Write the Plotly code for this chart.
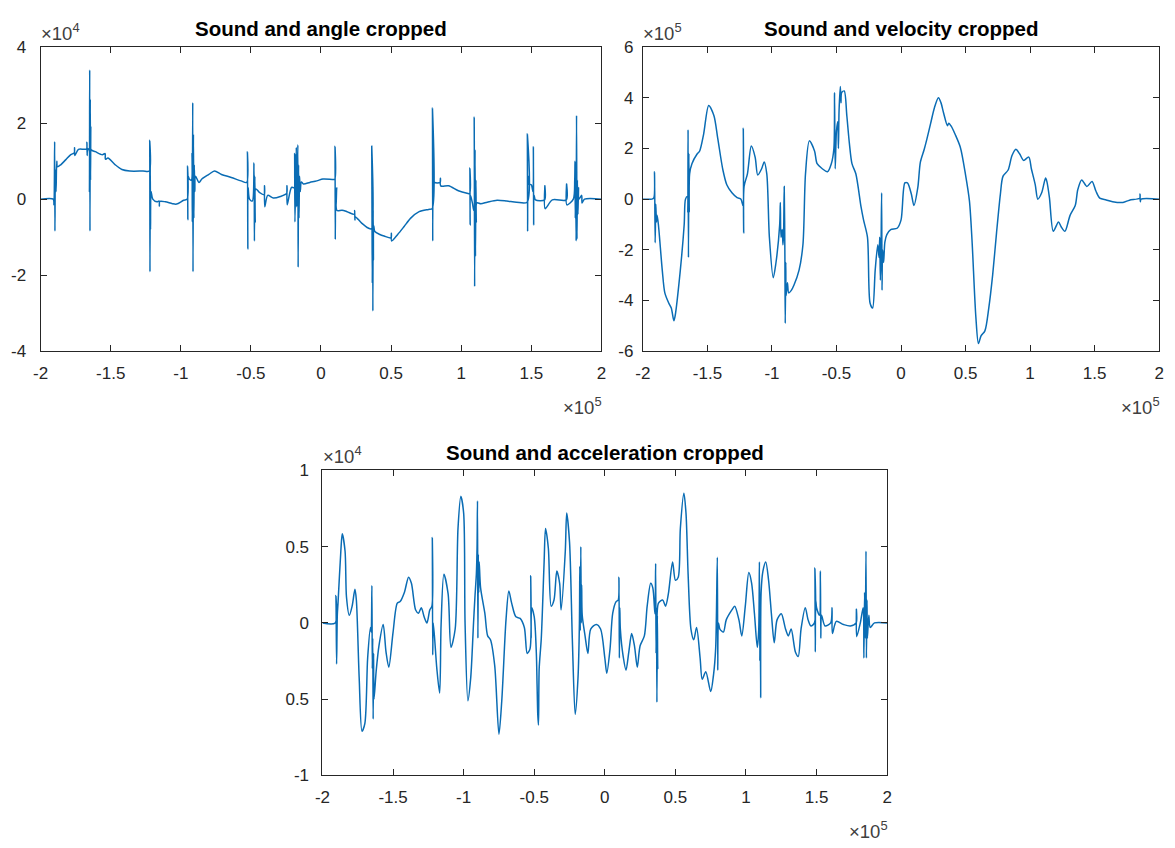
import plotly.graph_objects as go

# ---------------- data (x in units of 1e5, y in units shown by exponent label) ----------------
angle_x = [-2.00, -1.91, -1.905, -1.90, -1.898, -1.895, -1.89, -1.885, -1.88, -1.855, -1.82, -1.785,
           -1.76, -1.758, -1.756, -1.73, -1.69, -1.672, -1.670, -1.668, -1.665, -1.655, -1.652, -1.650,
           -1.648, -1.646, -1.644, -1.642, -1.64, -1.61, -1.56, -1.54, -1.538, -1.52, -1.47, -1.42,
           -1.365, -1.27, -1.225, -1.222, -1.220, -1.218, -1.216, -1.212, -1.20, -1.17, -1.155, -1.153,
           -1.15, -1.11, -1.06, -1.03, -0.98, -0.955, -0.952, -0.950, -0.947, -0.94, -0.925, -0.92,
           -0.918, -0.915, -0.913, -0.910, -0.907, -0.904, -0.90, -0.895, -0.87, -0.85, -0.80, -0.76,
           -0.71, -0.64, -0.57, -0.53, -0.525, -0.522, -0.52, -0.51, -0.49, -0.478, -0.475, -0.472,
           -0.469, -0.465, -0.44, -0.405, -0.403, -0.401, -0.38, -0.34, -0.29, -0.245, -0.243, -0.241,
           -0.21, -0.19, -0.188, -0.186, -0.18, -0.176, -0.174, -0.170, -0.165, -0.163, -0.160, -0.157,
           -0.153, -0.148, -0.14, -0.125, -0.08, -0.03, 0.014, 0.08, 0.098, 0.100, 0.102, 0.104,
           0.107, 0.112, 0.114, 0.15, 0.186, 0.238, 0.240, 0.242, 0.244, 0.29, 0.337, 0.36,
           0.362, 0.364, 0.366, 0.368, 0.370, 0.372, 0.374, 0.376, 0.384, 0.42, 0.45, 0.50,
           0.502, 0.504, 0.547, 0.593, 0.64, 0.70, 0.767, 0.793, 0.795, 0.797, 0.799, 0.801,
           0.805, 0.81, 0.85, 0.852, 0.854, 0.91, 0.98, 1.035, 1.060, 1.062, 1.064, 1.066,
           1.08, 1.090, 1.093, 1.096, 1.099, 1.102, 1.105, 1.108, 1.112, 1.14, 1.186, 1.256,
           1.326, 1.395, 1.47, 1.472, 1.474, 1.477, 1.484, 1.50, 1.512, 1.515, 1.517, 1.52,
           1.53, 1.595, 1.597, 1.599, 1.65, 1.75, 1.752, 1.754, 1.80, 1.810, 1.812, 1.814,
           1.817, 1.820, 1.823, 1.826, 1.829, 1.833, 1.837, 1.84, 1.86, 1.862, 1.88, 2.0]
angle_y = [0, 0, -0.15, 1.51, -0.84, 0.78, 0.2, 1.0, 0.85, 0.91, 1.04, 1.17,
           1.22, 1.35, 1.15, 1.31, 1.31, 1.32, 1.5, 1.15, 1.32, 1.3, 0.2, 3.4,
           -0.84, 2.63, 0.5, 1.9, 1.3, 1.25, 1.17, 1.2, 1.05, 1.08, 0.91, 0.78,
           0.74, 0.74, 0.74, 1.55, -1.91, 0.9, -0.8, 0.2, 0, -0.07, -0.05, -0.18,
           -0.06, -0.07, -0.12, -0.13, -0.03, 0, 0.87, -0.54, 0.6, 0.53, 0.5, 1.2,
           -0.6, 2.54, -1.91, 1.7, -0.5, 0.9, 0.2, 0.6, 0.44, 0.53, 0.65, 0.74,
           0.65, 0.57, 0.48, 0.44, 1.25, -1.31, 0.3, 0, -0.05, 0.95, -1.1, 0.6,
           -0.6, 0.27, 0.18, 0.12, 0.35, -0.2, 0.1, 0.03, 0.07, 0.15, 0.35, -0.15,
           0.31, 0.3, 1.2, -0.6, 0.5, 1.36, -0.2, 0.4, 1.43, -1.79, 0.9, -0.5,
           0.6, 0.2, 0.45, 0.4, 0.44, 0.48, 0.53, 0.52, 0.52, 1.39, -1.06, 0.3,
           -0.25, 0.3, -0.3, -0.29, -0.33, -0.4, -0.3, -0.55, -0.46, -0.63, -0.76, -0.78,
           1.39, -0.5, -2.21, 0.3, -2.94, -0.3, -1.6, -0.7, -0.85, -0.93, -0.97, -1.02,
           -0.9, -1.1, -0.93, -0.72, -0.5, -0.33, -0.27, -0.25, 2.4, -1.1, 1.6, 0.0,
           0.6, 0.44, 0.44, 0.55, 0.35, 0.35, 0.22, 0.16, 0.15, 0.82, -0.68, 0.1,
           -0.1, -0.3, 2.16, -2.3, 1.3, -1.5, 0.5, -0.6, -0.1, -0.12, -0.08, -0.03,
           -0.05, -0.08, -0.08, 1.72, -0.85, 0.6, 0.39, 0.38, 0.2, 1.38, -0.68, 0.1,
           -0.02, -0.02, 0.35, -0.25, -0.02, -0.02, 0.4, -0.15, 0, 0.5, 1.0, -0.5,
           0.6, -1.1, 2.2, -1.05, 0.5, -0.4, 0.3, 0, 0.1, -0.1, 0, 0]

velocity_x = [-2, -1.93, -1.915, -1.91, -1.905, -1.90, -1.895, -1.89, -1.88, -1.85, -1.83, -1.80,
              -1.78, -1.76, -1.75, -1.71, -1.68, -1.67, -1.655, -1.652, -1.650, -1.647, -1.644, -1.641,
              -1.638, -1.62, -1.58, -1.56, -1.53, -1.49, -1.45, -1.42, -1.38, -1.35, -1.31, -1.27,
              -1.24, -1.225, -1.222, -1.219, -1.216, -1.19, -1.16, -1.13, -1.11, -1.08, -1.06, -1.04,
              -1.02, -0.99, -0.97, -0.94, -0.935, -0.93, -0.92, -0.915, -0.91, -0.905, -0.90, -0.897,
              -0.893, -0.89, -0.88, -0.87, -0.85, -0.83, -0.79, -0.76, -0.74, -0.71, -0.67, -0.65,
              -0.61, -0.57, -0.54, -0.52, -0.515, -0.51, -0.50, -0.49, -0.485, -0.48, -0.47, -0.465,
              -0.46, -0.44, -0.42, -0.40, -0.38, -0.35, -0.31, -0.29, -0.26, -0.24, -0.22, -0.20,
              -0.18, -0.17, -0.165, -0.16, -0.155, -0.15, -0.147, -0.143, -0.135, -0.125, -0.11, -0.08,
              -0.03, 0.0, 0.03, 0.05, 0.08, 0.10, 0.13, 0.15, 0.18, 0.20, 0.23, 0.26,
              0.29, 0.31, 0.33, 0.36, 0.37, 0.39, 0.42, 0.46, 0.50, 0.53, 0.55, 0.58,
              0.60, 0.62, 0.65, 0.68, 0.71, 0.74, 0.77, 0.79, 0.83, 0.86, 0.89, 0.92,
              0.95, 0.99, 1.01, 1.04, 1.06, 1.09, 1.12, 1.13, 1.15, 1.18, 1.22, 1.24,
              1.27, 1.31, 1.35, 1.37, 1.40, 1.44, 1.48, 1.51, 1.54, 1.59, 1.64, 1.72,
              1.77, 1.85, 1.852, 1.854, 1.86, 2.0]
velocity_y = [0, 0, 0.05, 1.08, -1.72, -0.2, -0.9, -0.64, -1.0, -2.8, -3.7, -4.1,
              -4.3, -4.8, -4.6, -2.8, -1.0, 0, 0.1, -0.5, 2.74, -2.3, 1.8, -0.5,
              1.0, 1.4, 1.78, 1.9, 2.55, 3.7, 3.3, 2.4, 1.15, 0.57, 0.25, 0.06,
              0, -0.25, 2.8, -1.34, 0.5, 1.0, 2.1, 1.65, 0.95, 1.2, 1.47, 1.0,
              -1.5, -3.1, -2.55, -1.0, -0.13, -1.5, -1.2, -1.8, -1.4, 0.5, -2.0, -4.9,
              -2.5, -3.8, -3.3, -3.7, -3.6, -3.4, -2.8, -1.8, 1.0, 2.3, 1.9, 1.4,
              1.2, 1.08, 1.4, 2.0, 4.2, 1.2, 2.7, 3.05, 2.0, 3.5, 4.45, 3.8,
              4.2, 4.27, 3.3, 2.2, 1.4, 1.0, -0.3, -0.83, -1.5, -4.1, -4.3, -2.8,
              -1.8, -2.3, -1.5, -3.2, -2.0, 0.25, -3.6, -2.0, -2.5, -1.7, -1.4, -1.2,
              -1.15, -0.83, 0.64, 0.64, 0.2, -0.25, 0.45, 1.46, 1.97, 2.36, 3.0, 3.63,
              4.0, 3.8, 3.4, 2.9, 3.0, 2.87, 2.55, 2.04, 0.96, -0.06, -1.6, -4.65,
              -5.7, -5.4, -5.2, -4.3, -3.0, -1.34, 0.2, 0.9, 1.15, 1.72, 1.97, 1.78,
              1.53, 1.66, 1.2, 0.57, 0.0, 0.25, 0.83, 0.7, 0.06, -1.27, -0.9, -1.08,
              -1.27, -0.64, -0.25, 0.38, 0.76, 0.5, 0.7, 0.32, 0.04, -0.03, -0.1, -0.13,
              -0.04, 0.04, 0.2, -0.1, 0.0, 0]

accel_x = [-2, -1.91, -1.905, -1.90, -1.895, -1.89, -1.87, -1.86, -1.84, -1.83, -1.81, -1.79,
           -1.77, -1.76, -1.74, -1.72, -1.70, -1.68, -1.66, -1.655, -1.65, -1.647, -1.644, -1.641,
           -1.638, -1.635, -1.62, -1.60, -1.57, -1.55, -1.53, -1.50, -1.47, -1.45, -1.42, -1.39,
           -1.37, -1.34, -1.32, -1.30, -1.28, -1.26, -1.24, -1.225, -1.222, -1.219, -1.215, -1.19,
           -1.17, -1.16, -1.14, -1.11, -1.09, -1.06, -1.04, -1.02, -1.00, -0.99, -0.97, -0.95,
           -0.93, -0.92, -0.91, -0.905, -0.902, -0.899, -0.896, -0.893, -0.89, -0.88, -0.85, -0.83,
           -0.81, -0.78, -0.75, -0.73, -0.70, -0.68, -0.66, -0.63, -0.60, -0.57, -0.55, -0.53,
           -0.525, -0.522, -0.518, -0.50, -0.485, -0.48, -0.475, -0.47, -0.465, -0.45, -0.43, -0.42,
           -0.40, -0.38, -0.36, -0.34, -0.32, -0.31, -0.28, -0.27, -0.25, -0.23, -0.21, -0.19,
           -0.18, -0.177, -0.174, -0.17, -0.167, -0.164, -0.16, -0.14, -0.12, -0.10, -0.06, -0.03,
           0.0, 0.014, 0.037, 0.056, 0.08, 0.095, 0.10, 0.103, 0.106, 0.11, 0.13, 0.15,
           0.17, 0.19, 0.21, 0.23, 0.25, 0.28, 0.30, 0.325, 0.34, 0.355, 0.36, 0.363,
           0.366, 0.369, 0.372, 0.375, 0.38, 0.41, 0.43, 0.45, 0.48, 0.50, 0.52, 0.535,
           0.56, 0.575, 0.59, 0.61, 0.63, 0.65, 0.675, 0.69, 0.715, 0.75, 0.77, 0.785,
           0.797, 0.80, 0.805, 0.815, 0.84, 0.86, 0.90, 0.92, 0.95, 0.97, 0.995, 1.02,
           1.04, 1.06, 1.08, 1.09, 1.095, 1.098, 1.101, 1.104, 1.107, 1.12, 1.14, 1.16,
           1.18, 1.20, 1.22, 1.25, 1.28, 1.30, 1.32, 1.35, 1.37, 1.39, 1.42, 1.44,
           1.46, 1.485, 1.488, 1.491, 1.494, 1.50, 1.52, 1.527, 1.53, 1.535, 1.56, 1.60,
           1.61, 1.612, 1.64, 1.69, 1.74, 1.78, 1.782, 1.784, 1.81, 1.83, 1.835, 1.84,
           1.845, 1.85, 1.853, 1.857, 1.86, 1.87, 1.88, 1.91, 2.0]
accel_y = [0, 0, 0.18, -0.27, 0.05, 0.13, 0.47, 0.585, 0.47, 0.17, 0.05, 0.11,
           0.22, 0.15, -0.36, -0.71, -0.66, -0.23, -0.03, -0.06, 0.245, -0.3, -0.1, -0.63,
           -0.2, -0.5, -0.32, -0.15, -0.01, -0.19, -0.29, -0.06, 0.13, 0.14, 0.2, 0.3,
           0.26, 0.085, 0.064, 0.1, 0.04, 0, 0.085, 0.11, 0.56, -0.21, 0.0, -0.3,
           -0.46, -0.02, 0.32, 0.19, -0.16, -0.04, 0.62, 0.83, 0.72, 0.0, -0.51, -0.36,
           0.0, 0.17, 0.32, 0.5, 0.8, -0.1, 0.45, 0.2, 0.4, 0.23, 0.064, -0.085,
           -0.11, -0.28, -0.73, -0.51, 0.02, 0.21, 0.13, 0.04, 0.03, -0.03, -0.2, -0.17,
           0.31, -0.1, 0.1, 0.04, -0.2, -0.4, -0.6, -0.67, -0.3, -0.1, 0.4, 0.62,
           0.49, 0.11, 0.15, 0.34, 0.26, 0.085, 0.47, 0.72, 0.53, -0.11, -0.6, -0.36,
           0.0, 0.37, -0.05, 0.5, 0.0, 0.25, 0.05, -0.085, -0.2, -0.04, -0.01, -0.04,
           -0.23, -0.33, -0.17, 0.064, 0.14, 0.15, 0.3, -0.23, 0.1, -0.04, -0.22, -0.31,
           -0.19, -0.07, -0.15, -0.29, -0.15, -0.085, 0.11, 0.26, 0.23, 0.06, 0.39, -0.2,
           0.1, -0.52, 0.05, -0.3, 0.13, 0.15, 0.11, 0.19, 0.4, 0.28, 0.3, 0.62,
           0.85, 0.72, 0.32, -0.04, -0.11, -0.03, -0.23, -0.37, -0.32, -0.45, -0.34, -0.17,
           0.43, -0.31, 0.0, -0.04, -0.06, 0.02, 0.085, 0.11, 0.02, -0.085, 0.11, 0.33,
           0.26, 0.06, -0.16, -0.05, 0.4, -0.25, 0.1, -0.49, 0.2, 0.34, 0.4, 0.28,
           0.06, -0.13, 0.02, 0.06, -0.04, -0.085, -0.04, -0.19, -0.22, -0.04, 0.1, 0.02,
           -0.02, 0.0, 0.36, -0.19, 0.15, 0.1, 0.05, 0.34, -0.1, 0.05, -0.02, 0.0,
           0.1, -0.07, 0.01, -0.01, -0.02, 0.0, 0.09, -0.09, 0.0, 0.1, -0.23, 0.2,
           -0.1, 0.47, -0.23, 0.15, -0.1, 0.05, -0.03, 0.0, 0.0]

x_tickvals = [-2, -1.5, -1, -0.5, 0, 0.5, 1, 1.5, 2]
x_ticktext = ["-2", "-1.5", "-1", "-0.5", "0", "0.5", "1", "1.5", "2"]
angle_tickvals = [-4, -2, 0, 2, 4]
angle_ticktext = ["-4", "-2", "0", "2", "4"]
vel_tickvals = [-6, -4, -2, 0, 2, 4, 6]
vel_ticktext = ["-6", "-4", "-2", "0", "2", "4", "6"]
acc_tickvals = [-1, -0.5, 0, 0.5, 1]
acc_ticktext = ["-1", "0.5", "0", "0.5", "1"]

titles = ["Sound and angle cropped", "Sound and velocity cropped", "Sound and acceleration cropped"]
y_exponents = ["4", "5", "4"]

# ---------------- figure ----------------
W, H = 1175, 848
LINE = "#0a6cb4"
AX = "#262626"
FONT = "Liberation Sans"

# pixel boxes (left, right, top, bottom) and y-label standoff
boxes = [(33, 600, 39, 350), (642, 1164, 39, 350), (318, 889, 472, 784)]
y_standoffs = [10, 5, 9]

fig = go.Figure()
series = [(angle_x, angle_y), (velocity_x, velocity_y), (accel_x, accel_y)]
for i, (xs, ys) in enumerate(series):
    sfx = "" if i == 0 else str(i + 1)
    fig.add_trace(go.Scatter(x=xs, y=ys, mode="lines",
                             line=dict(color=LINE, width=1.5, shape="spline", smoothing=0.8),
                             xaxis="x" + sfx, yaxis="y" + sfx, showlegend=False))

yspecs = [([-4, 4], angle_tickvals, angle_ticktext),
          ([-6, 6], vel_tickvals, vel_ticktext),
          ([-1, 1], acc_tickvals, acc_ticktext)]

layout = dict(width=W, height=H, margin=dict(l=0, r=0, t=0, b=0),
              paper_bgcolor="white", plot_bgcolor="white", showlegend=False)
annotations = []
for i, (l, r, t, b) in enumerate(boxes):
    sfx = "" if i == 0 else str(i + 1)
    xd = [l / W, r / W]
    yd = [1 - b / H, 1 - t / H]
    common = dict(showline=True, linecolor=AX, linewidth=1, mirror="ticks", ticks="inside",
                  ticklen=6, tickcolor=AX, tickwidth=1, showgrid=False, zeroline=False,
                  tickfont=dict(family=FONT, size=17, color=AX))
    layout["xaxis" + sfx] = dict(domain=xd, range=[-2, 2], tickvals=x_tickvals, ticktext=x_ticktext,
                                 anchor="y" + sfx, ticklabelstandoff=6, **common)
    yr, tv, tt = yspecs[i]
    layout["yaxis" + sfx] = dict(domain=yd, range=yr, tickvals=tv, ticktext=tt,
                                 anchor="x" + sfx, ticklabelstandoff=y_standoffs[i], **common)
    # title
    annotations.append(dict(text="<b>" + titles[i] + "</b>", xref="paper", yref="paper",
                            x=(l + r) / 2 / W, y=1 - (t - 5) / H, xanchor="center", yanchor="bottom",
                            showarrow=False, font=dict(family=FONT, size=20.5, color="#000000")))
    # y exponent
    annotations.append(dict(text="×10<sup>" + y_exponents[i] + "</sup>", xref="paper", yref="paper",
                            x=(l - 2) / W, y=1 - (t - 1) / H, xanchor="left", yanchor="bottom",
                            showarrow=False, font=dict(family=FONT, size=18.5, color="#404040")))
    # x exponent
    annotations.append(dict(text="×10<sup>5</sup>", xref="paper", yref="paper",
                            x=(r + 3) / W, y=1 - (b + 42) / H, xanchor="right", yanchor="top",
                            showarrow=False, font=dict(family=FONT, size=18.5, color="#404040")))
layout["annotations"] = annotations
fig.update_layout(**layout)
fig.write_html("out.html")
